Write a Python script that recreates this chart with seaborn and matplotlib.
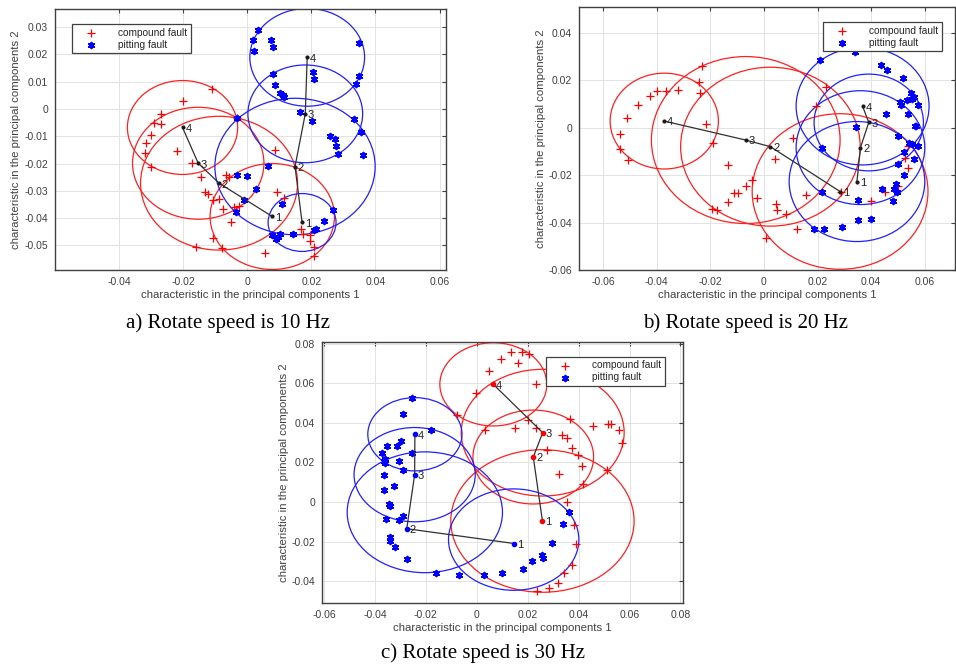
import matplotlib
matplotlib.use("Agg")
import matplotlib.pyplot as plt
import seaborn as sns
import pandas as pd
from matplotlib.patches import Circle
from matplotlib.ticker import FuncFormatter

# ---- data ----
# a) 10 Hz
a_comp_x = [-0.0110, -0.0200, -0.0268, -0.0291, -0.0268, -0.0300, -0.0315, -0.0319, -0.0300, -0.0219,
            -0.0172, -0.0145, -0.0133, -0.0124, -0.0106, -0.0087, -0.0077, -0.0065, -0.0057, -0.0031,
            -0.0025, -0.0040, -0.0052, -0.0108, -0.0161, -0.0078, 0.0085, 0.0092, 0.0114, 0.0056,
            0.0169, 0.0173, 0.0197, 0.0197, 0.0207, 0.0207]
a_comp_y = [0.0074, 0.0029, -0.0020, -0.0050, -0.0056, -0.0095, -0.0126, -0.0160, -0.0213, -0.0154,
            -0.0199, -0.0251, -0.0306, -0.0311, -0.0335, -0.0330, -0.0365, -0.0241, -0.0248, -0.0034,
            -0.0354, -0.0361, -0.0413, -0.0471, -0.0504, -0.0511, -0.0152, -0.0306, -0.0327, -0.0529,
            -0.0440, -0.0459, -0.0461, -0.0482, -0.0506, -0.0540]
a_pit_x = [0.0034, 0.0017, 0.0020, 0.0073, 0.0081, 0.0081, 0.0085, 0.0101, 0.0110, 0.0116,
           0.0204, 0.0207, 0.0164, 0.0202, 0.0348, 0.0350, 0.0338, 0.0334, 0.0257, 0.0275,
           0.0278, 0.0283, 0.0355, 0.0360, 0.0065, -0.0031, 0.0000, 0.0026, -0.0010, -0.0036,
           0.0109, 0.0266, 0.0240, 0.0207, 0.0216, 0.0142, 0.0101, 0.0078, 0.0091, 0.0096, -0.0033]
a_pit_y = [0.0289, 0.0252, 0.0213, 0.0252, 0.0228, 0.0128, 0.0088, 0.0057, 0.0051, 0.0045,
           0.0137, 0.0110, -0.0013, -0.0044, 0.0122, 0.0243, 0.0091, -0.0038, -0.0098, -0.0111,
           -0.0135, -0.0166, -0.0085, -0.0170, -0.0209, -0.0241, -0.0245, -0.0294, -0.0335, -0.0377,
           -0.0350, -0.0372, -0.0412, -0.0443, -0.0440, -0.0459, -0.0459, -0.0463, -0.0476, -0.0468, -0.0035]
a_comp_path_x = [0.0078, -0.0088, -0.0153, -0.0202]
a_comp_path_y = [-0.0394, -0.0272, -0.0199, -0.0068]
a_comp_r = [0.0194, 0.0245, 0.0205, 0.0172]
a_pit_path_x = [0.0171, 0.0149, 0.0181, 0.0187]
a_pit_path_y = [-0.0416, -0.0211, -0.0018, 0.0189]
a_pit_r = [0.0106, 0.0250, 0.0179, 0.0179]

# b) 20 Hz
b_comp_x = [-0.0231, -0.0243, -0.0237, -0.0322, -0.0365, -0.0400, -0.0424, -0.0469, -0.0510, -0.0536,
            -0.0538, -0.0506, -0.0215, -0.0191, -0.0136, -0.0043, -0.0068, -0.0097, -0.0113, -0.0136,
            -0.0195, -0.0175, -0.0026, 0.0043, 0.0108, 0.0046, 0.0050, 0.0081, 0.0124, 0.0009,
            0.0157, 0.0193, 0.0232, 0.0288, 0.0400, 0.0451, 0.0500, 0.0527, 0.0538, 0.0539]
b_comp_y = [0.0261, 0.0194, 0.0147, 0.0158, 0.0156, 0.0156, 0.0135, 0.0094, 0.0039, -0.0027,
            -0.0091, -0.0136, 0.0015, -0.0063, -0.0158, -0.0222, -0.0245, -0.0275, -0.0275, -0.0314,
            -0.0342, -0.0349, -0.0297, -0.0133, -0.0045, -0.0321, -0.0346, -0.0365, -0.0425, -0.0464,
            -0.0282, 0.0091, 0.0170, -0.0273, -0.0307, -0.0272, -0.0245, -0.0126, -0.0076, -0.0171]
b_pit_x = [0.0341, 0.0210, 0.0436, 0.0459, 0.0517, 0.0550, 0.0560, 0.0554, 0.0532, 0.0508,
           0.0510, 0.0573, 0.0455, 0.0536, 0.0564, 0.0569, 0.0345, 0.0500, 0.0542, 0.0554,
           0.0573, 0.0216, 0.0521, 0.0500, 0.0558, 0.0523, 0.0492, 0.0486, 0.0498, 0.0442,
           0.0483, 0.0216, 0.0350, 0.0399, 0.0350, 0.0290, 0.0223, 0.0188]
b_pit_y = [0.0318, 0.0285, 0.0266, 0.0243, 0.0208, 0.0145, 0.0130, 0.0120, 0.0116, 0.0109,
           0.0095, 0.0094, 0.0059, 0.0059, 0.0007, 0.0007, 0.0004, -0.0035, -0.0066, -0.0070,
           -0.0077, -0.0084, -0.0104, -0.0151, -0.0132, -0.0199, -0.0238, -0.0257, -0.0269, -0.0257,
           -0.0307, -0.0273, -0.0304, -0.0383, -0.0388, -0.0419, -0.0428, -0.0425]
b_comp_path_x = [0.0284, 0.0024, -0.0068, -0.0372]
b_comp_path_y = [-0.0269, -0.0080, -0.0052, 0.0028]
b_comp_r = [0.0328, 0.0335, 0.0352, 0.0202]
b_pit_path_x = [0.0347, 0.0360, 0.0391, 0.0368]
b_pit_path_y = [-0.0227, -0.0084, 0.0022, 0.0091]
b_pit_r = [0.0253, 0.0240, 0.0204, 0.0248]

# c) 30 Hz
c_comp_x = [0.0133, 0.0176, 0.0204, 0.0094, 0.0163, 0.0048, 0.0231, -0.0003, -0.0078, 0.0033,
            0.0150, 0.0200, 0.0233, 0.0366, 0.0458, 0.0516, 0.0529, 0.0558, 0.0571, 0.0333,
            0.0353, 0.0376, 0.0399, 0.0412, 0.0277, 0.0323, 0.0416, 0.0510, 0.0353, 0.0382,
            0.0388, 0.0373, 0.0344, 0.0318, 0.0285, 0.0235]
c_comp_y = [0.0758, 0.0758, 0.0746, 0.0720, 0.0704, 0.0663, 0.0594, 0.0550, 0.0438, 0.0365,
            0.0375, 0.0412, 0.0375, 0.0421, 0.0384, 0.0396, 0.0396, 0.0365, 0.0298, 0.0337,
            0.0323, 0.0274, 0.0239, 0.0180, 0.0261, 0.0143, 0.0089, 0.0163, 0.0000, -0.0114,
            -0.0210, -0.0320, -0.0359, -0.0407, -0.0434, -0.0451]
c_pit_x = [-0.0255, -0.0290, -0.0179, -0.0297, -0.0315, -0.0353, -0.0372, -0.0362, -0.0366, -0.0360,
           -0.0305, -0.0290, -0.0254, -0.0366, -0.0327, -0.0366, -0.0346, -0.0340, -0.0356, -0.0307,
           -0.0290, -0.0342, -0.0342, -0.0320, -0.0275, -0.0159, -0.0069, 0.0030, 0.0101, 0.0183,
           0.0216, 0.0255, 0.0259, 0.0295, 0.0337, 0.0362]
c_pit_y = [0.0527, 0.0443, 0.0365, 0.0306, 0.0283, 0.0281, 0.0247, 0.0215, 0.0205, 0.0195,
           0.0209, 0.0163, 0.0249, 0.0135, 0.0079, 0.0059, -0.0012, -0.0022, -0.0084, -0.0089,
           -0.0071, -0.0177, -0.0199, -0.0227, -0.0286, -0.0359, -0.0367, -0.0367, -0.0357, -0.0338,
           -0.0300, -0.0266, -0.0281, -0.0207, -0.0113, -0.0051]
c_comp_path_x = [0.0258, 0.0222, 0.0259, 0.0065]
c_comp_path_y = [-0.0096, 0.0227, 0.0350, 0.0594]
c_comp_r = [0.0360, 0.0237, 0.0320, 0.0210]
c_pit_path_x = [0.0148, -0.0275, -0.0244, -0.0243]
c_pit_path_y = [-0.0210, -0.0135, 0.0138, 0.0342]
c_pit_circ_x = [0.0145, -0.0204, -0.0244, -0.0243]
c_pit_circ_y = [-0.0190, -0.0052, 0.0138, 0.0342]
c_pit_r = [0.0256, 0.0305, 0.0238, 0.0185]

panels = [
    dict(rect=[0.0575, 0.5952, 0.409, 0.3913], xlim=(-0.06, 0.062), ylim=(-0.059, 0.0366),
         xticks=[-0.04, -0.02, 0, 0.02, 0.04, 0.06], yticks=[-0.05, -0.04, -0.03, -0.02, -0.01, 0, 0.01, 0.02, 0.03],
         comp=(a_comp_x, a_comp_y), pit=(a_pit_x, a_pit_y),
         comp_path=(a_comp_path_x, a_comp_path_y), comp_circ=(a_comp_path_x, a_comp_path_y, a_comp_r),
         pit_path=(a_pit_path_x, a_pit_path_y), pit_circ=(a_pit_path_x, a_pit_path_y, a_pit_r),
         leg=dict(loc="upper left", bbox_to_anchor=(0.031, 0.962)), node_col=("k", "k"),
         caption="a) Rotate speed is 10 Hz", cap_xy=(228, 323)),
    dict(rect=[0.6057, 0.5952, 0.3933, 0.3943], xlim=(-0.069, 0.0713), ylim=(-0.06, 0.0509),
         xticks=[-0.06, -0.04, -0.02, 0, 0.02, 0.04, 0.06], yticks=[-0.06, -0.04, -0.02, 0, 0.02, 0.04],
         comp=(b_comp_x, b_comp_y), pit=(b_pit_x, b_pit_y),
         comp_path=(b_comp_path_x, b_comp_path_y), comp_circ=(b_comp_path_x, b_comp_path_y, b_comp_r),
         pit_path=(b_pit_path_x, b_pit_path_y), pit_circ=(b_pit_path_x, b_pit_path_y, b_pit_r),
         leg=dict(loc="upper right", bbox_to_anchor=(0.978, 0.961)), node_col=("k", "k"),
         caption="b) Rotate speed is 20 Hz", cap_xy=(746, 323)),
    dict(rect=[0.3368, 0.0960, 0.3776, 0.3913], xlim=(-0.0608, 0.081), ylim=(-0.051, 0.0808),
         xticks=[-0.06, -0.04, -0.02, 0, 0.02, 0.04, 0.06, 0.08], yticks=[-0.04, -0.02, 0, 0.02, 0.04, 0.06, 0.08],
         comp=(c_comp_x, c_comp_y), pit=(c_pit_x, c_pit_y),
         comp_path=(c_comp_path_x, c_comp_path_y), comp_circ=(c_comp_path_x, c_comp_path_y, c_comp_r),
         pit_path=(c_pit_path_x, c_pit_path_y), pit_circ=(c_pit_circ_x, c_pit_circ_y, c_pit_r),
         leg=dict(loc="upper right", bbox_to_anchor=(0.964, 0.963)), node_col=("red", "blue"),
         caption="c) Rotate speed is 30 Hz", cap_xy=(483, 653)),
]

sns.set_theme(style="white")
plt.rcParams["font.family"] = ["Liberation Sans", "DejaVu Sans"]
GRAY = "#404040"
W, H = 956, 667

fig = plt.figure(figsize=(W / 100, H / 100), dpi=100)
fmt = FuncFormatter(lambda v, p: f"{round(v, 4):g}")

for p in panels:
    ax = fig.add_axes(p["rect"])
    ax.set_axisbelow(True)
    ax.grid(True, color="#e3e3e3", lw=0.7)

    # circles (radius in data units)
    for key, col in (("comp_circ", "#ff2020"), ("pit_circ", "#2020ff")):
        cx, cy, rr = p[key]
        for x0, y0, r0 in zip(cx, cy, rr):
            ax.add_patch(Circle((x0, y0), r0, fill=False, ec=col, lw=0.9, zorder=2))

    sns.scatterplot(x=p["comp"][0], y=p["comp"][1], ax=ax, color="red", marker="+",
                    s=32, linewidth=0.9, label="compound fault", zorder=3)
    sns.scatterplot(x=p["pit"][0], y=p["pit"][1], ax=ax, color="blue", marker=(6, 2, 0),
                    s=16, linewidth=1.4, label="pitting fault", zorder=3)

    for key, nc in zip(("comp_path", "pit_path"), p["node_col"]):
        px_, py_ = p[key]
        sns.lineplot(x=px_, y=py_, sort=False, estimator=None, ax=ax, color="#303030",
                     lw=0.9, zorder=4, legend=False)
        ax.scatter(px_, py_, s=4 if nc == "k" else 9, color=nc, zorder=5)
        for i, (xx, yy) in enumerate(zip(px_, py_)):
            ax.annotate(str(i + 1), (xx, yy), xytext=(2, -1), textcoords="offset points",
                        fontsize=8, color="#202020", va="center", ha="left", zorder=6)

    ax.set_xlim(*p["xlim"])
    ax.set_ylim(*p["ylim"])
    ax.set_xticks(p["xticks"])
    ax.set_yticks(p["yticks"])
    ax.xaxis.set_major_formatter(fmt)
    ax.yaxis.set_major_formatter(fmt)
    ax.tick_params(direction="in", top=True, right=True, length=3, width=0.8,
                   labelsize=7.5, colors=GRAY, pad=5)
    for s in ax.spines.values():
        s.set_color(GRAY)
        s.set_linewidth(1.0)
    ax.set_xlabel("characteristic in the principal components 1", fontsize=8.2, color=GRAY, labelpad=2)
    ax.set_ylabel("characteristic in the principal components 2", fontsize=8.2, color=GRAY, labelpad=2)

    leg = ax.legend(fontsize=7.3, frameon=True, fancybox=False, edgecolor=GRAY,
                    framealpha=1, borderpad=0.35, handlelength=3.0, handletextpad=1.2,
                    labelspacing=0.2, scatterpoints=1, **p["leg"])
    leg.get_frame().set_linewidth(0.9)

    fig.text(p["cap_xy"][0] / W, 1 - p["cap_xy"][1] / H, p["caption"],
             family=["Liberation Serif", "DejaVu Serif"], fontsize=15, color="black",
             ha="center", va="center")

fig.savefig("out.png", dpi=100)
